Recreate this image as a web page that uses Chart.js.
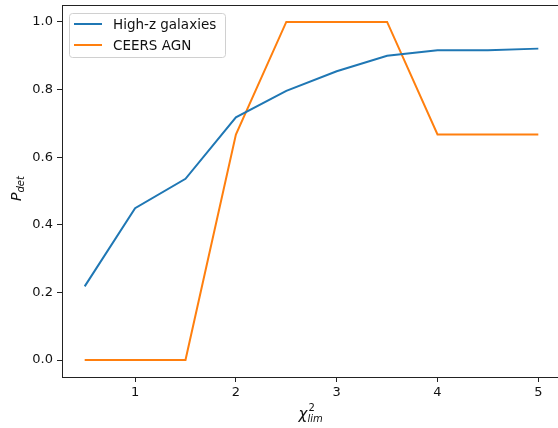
<!DOCTYPE html>
<html>
<head>
<meta charset="utf-8">
<script src="https://cdn.jsdelivr.net/npm/chart.js@4/dist/chart.umd.min.js"></script>
<style>
  html, body { margin: 0; padding: 0; background: #fff; overflow: hidden; }
  #wrap { width: 561px; height: 428px; }
</style>
</head>
<body>
<div id="wrap"><canvas id="chart"></canvas></div>
<script>
const chiLim = [0.5, 1, 1.5, 2, 2.5, 3, 3.5, 4, 4.5, 5];
const highZ = [0.218, 0.449, 0.536, 0.718, 0.796, 0.854, 0.900, 0.916, 0.916, 0.921];
const ceersAgn = [0, 0, 0, 0.667, 1, 1, 1, 0.667, 0.667, 0.667];
const seriesNames = ['High-z galaxies', 'CEERS AGN'];
const xTicks = [1, 2, 3, 4, 5];
const yTicks = [0, 0.2, 0.4, 0.6, 0.8, 1.0];

const blue = '#1f77b4';
const orange = '#ff7f0e';
const font = 'DejaVu Sans';
const axisColor = '#222';

// top/right spines, legend and the two math titles, matplotlib style
const mplPlugin = {
  id: 'mpl',
  afterDraw(chart) {
    const ctx = chart.ctx;
    const a = chart.chartArea;
    ctx.save();
    ctx.fillStyle = axisColor;
    ctx.fillRect(Math.round(a.left), Math.round(a.top), Math.round(a.right - a.left), 1);
    ctx.fillRect(Math.round(a.right) - 1, Math.round(a.top), 1, Math.round(a.bottom - a.top));

    // legend
    const lx = a.left + 7, ly = a.top + 8, lw = 156, lh = 44;
    ctx.fillStyle = 'rgba(255,255,255,0.8)';
    ctx.strokeStyle = '#d0d0d0';
    ctx.lineWidth = 1;
    ctx.beginPath();
    ctx.roundRect(lx + 0.5, ly + 0.5, lw, lh, 3);
    ctx.fill();
    ctx.stroke();
    const colors = [blue, orange];
    ctx.font = '13.5px ' + font;
    ctx.textBaseline = 'middle';
    for (let i = 0; i < seriesNames.length; i++) {
      const yy = ly + 11 + i * 21;
      ctx.strokeStyle = colors[i];
      ctx.lineWidth = 2;
      ctx.beginPath();
      ctx.moveTo(lx + 5, yy);
      ctx.lineTo(lx + 33, yy);
      ctx.stroke();
      ctx.fillStyle = '#111';
      ctx.fillText(seriesNames[i], lx + 44, yy + 1);
    }

    // x title: chi^2_lim
    ctx.fillStyle = '#111';
    ctx.textBaseline = 'alphabetic';
    const cx = (a.left + a.right) / 2 - 13;
    const by = 419;
    ctx.font = 'italic 15px ' + font;
    ctx.fillText('χ', cx, by);
    const wChi = ctx.measureText('χ').width;
    ctx.font = '10px ' + font;
    ctx.fillText('2', cx + wChi + 1, by - 8);
    ctx.font = 'italic 10px ' + font;
    ctx.fillText('lim', cx + wChi, by + 3);

    // y title: P_det
    ctx.translate(21, (a.top + a.bottom) / 2 + 10);
    ctx.rotate(-Math.PI / 2);
    ctx.font = 'italic 14px ' + font;
    ctx.fillText('P', 0, 0);
    const wP = ctx.measureText('P').width;
    ctx.font = 'italic 10px ' + font;
    ctx.fillText('det', wP, 3);
    ctx.restore();
  }
};

new Chart(document.getElementById('chart'), {
  type: 'line',
  data: {
    datasets: [
      { label: seriesNames[0], data: chiLim.map((x, i) => ({ x: x, y: highZ[i] })),
        borderColor: blue, borderWidth: 2, pointRadius: 0, fill: false, tension: 0 },
      { label: seriesNames[1], data: chiLim.map((x, i) => ({ x: x, y: ceersAgn[i] })),
        borderColor: orange, borderWidth: 2, pointRadius: 0, fill: false, tension: 0 }
    ]
  },
  options: {
    responsive: true,
    maintainAspectRatio: false,
    animation: false,
    layout: { padding: { top: 5, right: 0, left: 0, bottom: 0 } },
    plugins: { legend: { display: false }, tooltip: { enabled: false } },
    scales: {
      x: {
        type: 'linear',
        min: 0.275,
        max: 5.225,
        afterBuildTicks: (s) => { s.ticks = xTicks.map(v => ({ value: v })); },
        afterFit: (s) => { s.height = 51; s.paddingLeft = 0; s.paddingRight = 0; },
        grid: { drawOnChartArea: false, drawTicks: true, tickLength: 5, color: axisColor },
        border: { display: true, color: axisColor },
        ticks: { color: '#111', font: { family: font, size: 13 }, padding: 3, maxRotation: 0 }
      },
      y: {
        min: -0.05,
        max: 1.05,
        afterBuildTicks: (s) => { s.ticks = yTicks.map(v => ({ value: v })); },
        afterFit: (s) => { s.width = 62; s.paddingTop = 0; s.paddingBottom = 0; },
        grid: { drawOnChartArea: false, drawTicks: true, tickLength: 5, color: axisColor },
        border: { display: true, color: axisColor },
        ticks: { color: '#111', font: { family: font, size: 13 }, padding: 4,
          callback: (v) => v.toFixed(1) }
      }
    }
  },
  plugins: [mplPlugin]
});
</script>
</body>
</html>
